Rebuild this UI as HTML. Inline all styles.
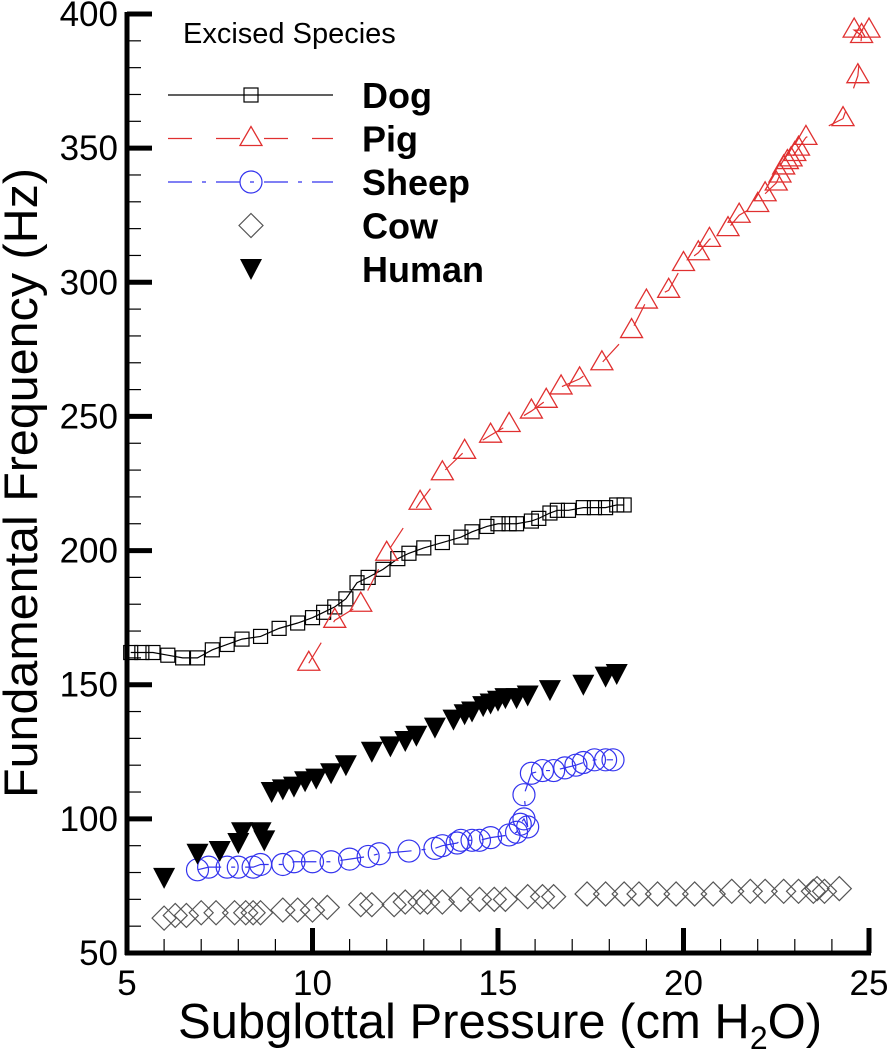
<!DOCTYPE html>
<html><head><meta charset="utf-8"><style>
body{margin:0;background:#fff;}
svg{display:block;font-family:"Liberation Sans",Arial,sans-serif;}
</style></head><body>
<svg id="chart" width="888" height="1050" viewBox="0 0 888 1050" xmlns="http://www.w3.org/2000/svg"></svg>
<script>
const xTicks=[5,10,15,20,25];
const yTicks=[50,100,150,200,250,300,350,400];
const dogX=[5.1,5.4,5.7,6.1,6.5,6.9,7.3,7.7,8.1,8.6,9.1,9.6,10.0,10.3,10.6,10.9,11.2,11.5,11.9,12.3,12.6,13.0,13.5,14.0,14.3,14.7,15.0,15.3,15.5,15.9,16.1,16.4,16.6,16.9,17.3,17.6,17.9,18.2,18.4];
const dogY=[162,162,162,161,160,160,163,165,167,168,171,173,175,177,179,182,188,190,193,197,199,201,203,205,207,209,210,210,210,211,212,214,215,215,216,216,216,217,217];
const pigX=[9.9,10.6,11.3,12.0,12.9,13.5,14.1,14.8,15.3,15.9,16.3,16.7,17.2,17.8,18.6,19.0,19.6,20.0,20.4,20.7,21.2,21.5,22.0,22.2,22.5,22.6,22.7,22.8,22.9,23.0,23.1,23.3,24.3,24.7,24.8,24.6,25.0];
const pigY=[158,174,180,199,218,229,237,243,247,252,256,261,264,270,282,293,297,307,311,316,320,325,329,333,337,340,343,345,346,348,350,354,361,377,392,394,394];
const sheepX=[6.9,7.2,7.7,8.0,8.4,8.6,9.2,9.5,10.0,10.5,11.0,11.5,11.8,12.6,13.3,13.5,13.9,14.0,14.3,14.5,14.8,15.3,15.5,15.6,15.7,15.8,15.7,15.9,16.2,16.5,16.8,17.1,17.3,17.6,17.9,18.1];
const sheepY=[81,82,82,82,82,83,83,84,84,84,85,86,87,88,89,90,91,92,92,92,93,94,95,98,100,97,109,117,118,118,119,120,121,122,122,122];
const cowX=[6.0,6.3,6.6,7.0,7.4,7.9,8.2,8.4,8.6,9.2,9.6,10.0,10.4,11.3,11.6,12.2,12.5,12.9,13.1,13.5,14.0,14.5,14.9,15.2,15.8,16.2,16.5,17.4,17.9,18.4,18.8,19.3,19.8,20.3,20.8,21.3,21.8,22.2,22.7,23.1,23.5,23.6,23.8,24.2];
const cowY=[63,64,64,65,65,65,65,65,65,66,66,66,67,68,68,68,69,69,69,69,70,70,70,70,71,71,71,72,72,72,72,72,72,72,72,73,73,73,73,73,73,74,73,74];
const humanX=[6.0,6.9,7.5,8.0,8.1,8.6,8.7,8.9,9.2,9.5,9.8,10.1,10.5,10.9,11.6,12.1,12.5,12.8,13.3,13.8,14.1,14.3,14.6,14.8,15.0,15.2,15.5,15.8,16.4,17.3,17.9,18.2];
const humanY=[78,87,88,91,95,95,92,110,111,112,114,115,117,120,125,127,129,131,134,137,139,140,142,143,144,145,145,146,148,150,153,154];

const NS="http://www.w3.org/2000/svg";
const svg=document.getElementById('chart');
const X0=127,X1=869,Y0=953,Y1=14;
const sx=v=>X0+(v-5)*(X1-X0)/20;
const sy=v=>Y0-(v-50)*(Y0-Y1)/350;
function mk(tag,attrs,parent){const e=document.createElementNS(NS,tag);for(const k in attrs)e.setAttribute(k,attrs[k]);(parent||svg).appendChild(e);return e;}

const ax=mk('g',{});


mk('line',{x1:X0,y1:Y1-2,x2:X0,y2:Y0+2,stroke:'#000','stroke-width':5},ax);
mk('line',{x1:X0-2,y1:Y0,x2:X1+2,y2:Y0,stroke:'#000','stroke-width':5},ax);
for(let v=50;v<=400;v+=10){const maj=(v%50===0);mk('line',{x1:X0,y1:sy(v),x2:X0+(maj?25:14),y2:sy(v),stroke:'#000','stroke-width':maj?5:1.2},ax);}
for(let v=5;v<=25;v+=1){const maj=(v%5===0);mk('line',{x1:sx(v),y1:Y0,x2:sx(v),y2:Y0-(maj?25:14),stroke:'#000','stroke-width':maj?5:1.2},ax);}
yTicks.forEach(v=>{const t=mk('text',{x:118,y:sy(v)+12,'text-anchor':'end','font-size':35},ax);t.textContent=v;});
xTicks.forEach(v=>{const t=mk('text',{x:sx(v),y:995,'text-anchor':'middle','font-size':35},ax);t.textContent=v;});
const yt=mk('text',{x:0,y:0,'text-anchor':'middle','font-size':47,textLength:630,lengthAdjust:'spacingAndGlyphs',transform:'translate(37,483) rotate(-90)'});
yt.textContent='Fundamental Frequency (Hz)';


const xt=mk('text',{x:500,y:1038,'text-anchor':'middle','font-size':49});
xt.innerHTML='Subglottal Pressure (cm H<tspan font-size="32" dy="11">2</tspan><tspan dy="-11">O)</tspan>';



function marker(type,cx,cy,g,col){
  if(type==='sq')mk('rect',{x:cx-7,y:cy-7,width:14,height:14,fill:'none',stroke:col,'stroke-width':1.2},g);
  else if(type==='tri')mk('polygon',{points:`${cx},${cy-12} ${cx-11},${cy+7} ${cx+11},${cy+7}`,fill:'none',stroke:col,'stroke-width':1.3},g);
  else if(type==='circ')mk('circle',{cx:cx,cy:cy,r:11,fill:'none',stroke:col,'stroke-width':1.2},g);
  else if(type==='dia')mk('polygon',{points:`${cx},${cy-12} ${cx+12},${cy} ${cx},${cy+12} ${cx-12},${cy}`,fill:'none',stroke:col,'stroke-width':1.2},g);
  else if(type==='inv')mk('polygon',{points:`${cx-11},${cy-10} ${cx+11},${cy-10} ${cx},${cy+11}`,fill:'#000'},g);
}
function series(name,xs,ys,type,col,dash){
  const g=mk('g',{});
  
  
  if(dash!==null){
    const pts=xs.map((x,i)=>sx(x)+','+sy(ys[i])).join(' ');
    const a={points:pts,fill:'none',stroke:col,'stroke-width':1.2};
    if(dash)a['stroke-dasharray']=dash;
    mk('polyline',a,g);
  }
  xs.forEach((x,i)=>marker(type,sx(x),sy(ys[i]),g,col));
}
series('dog',dogX,dogY,'sq','#000','');
series('pig',pigX,pigY,'tri','#e03030','24,24');
series('sheep',sheepX,sheepY,'circ','#3333ee','24,10,4,10');
series('cow',cowX,cowY,'dia','#555',null);
series('human',humanX,humanY,'inv','#000',null);

const lg=mk('g',{});


const lt=mk('text',{x:183,y:43,'font-size':29},lg);lt.textContent='Excised Species';
const ent=[['Dog','sq','#000',''],['Pig','tri','#e03030','24,24'],['Sheep','circ','#3333ee','24,10,4,10'],['Cow','dia','#555',null],['Human','inv','#000',null]];
ent.forEach((e,i)=>{
  const y=95+i*43.5;
  const g=mk('g',{},lg);
  
  
  if(e[3]!==null){const a={x1:168,y1:y,x2:333,y2:y,stroke:e[2],'stroke-width':1.2};if(e[3])a['stroke-dasharray']=e[3];mk('line',a,g);}
  marker(e[1],251,y,g,e[2]);
  const t=mk('text',{x:362,y:y+13,'font-size':36,'font-weight':'bold'},g);t.textContent=e[0];
});
</script>
</body></html>
